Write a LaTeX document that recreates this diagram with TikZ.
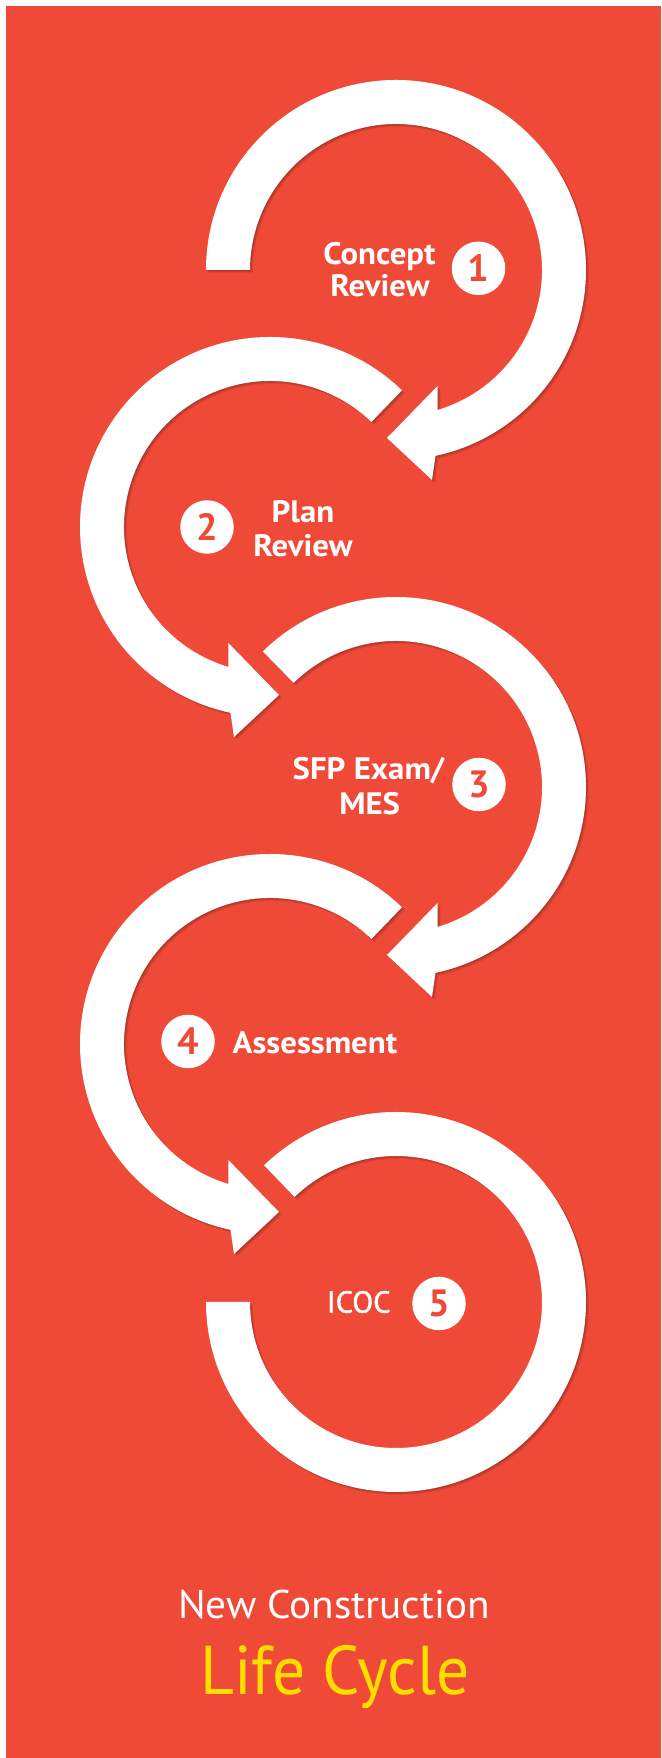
\documentclass[tikz,border=0pt]{standalone}
\usepackage{fontspec}
\setmainfont{PT Sans}
\newfontfamily\labelfont{PT Sans}[FakeStretch=1.06]
\newfontfamily\icocfont{PT Sans}[FakeBold=1.4]
\newfontfamily\titleafont{PT Sans}[FakeStretch=1.03]
\newfontfamily\titlebfont{PT Sans}[FakeStretch=0.95]
\definecolor{bgred}{RGB}{239,74,55}
\definecolor{titleyellow}{RGB}{255,221,0}
% right-hand loop, clockwise, arrowhead at bottom
\newcommand{\RLoopShape}[2]{\fill[#1] (#2:190) arc[start angle=#2,end angle=-78,radius=190] -- (36,-210) -- (-9,-168) -- (41.6,-116) -- (-73.4:146) arc[start angle=-73.4,end angle=#2,radius=146] -- cycle;}
% left-hand loop, counter-clockwise, arrowhead at bottom
\newcommand{\LLoopShape}[2]{\fill[#1] (#2:190) arc[start angle=#2,end angle=258,radius=190] -- (-36,-210) -- (9,-168) -- (-41.6,-116) -- (253.4:146) arc[start angle=253.4,end angle=#2,radius=146] -- cycle;}
% last loop, no arrowhead
\newcommand{\ELoopShape}[2]{\fill[#1] (#2:190) arc[start angle=#2,end angle=-180,radius=190] -- (-180:146) arc[start angle=-180,end angle=#2,radius=146] -- cycle;}
\newcommand{\ShadowedLoop}[4]{% #1 macro, #2 x, #3 y, #4 start angle
  \begin{scope}[shift={(#2,#3)}]
    #1{black,opacity=0.07,shift={(3,-3)}}{#4}
    #1{black,opacity=0.09,shift={(2,-2)}}{#4}
    #1{black,opacity=0.11,shift={(1,-1)}}{#4}
    #1{white}{#4}
  \end{scope}}
\begin{document}
\begin{tikzpicture}[x=1pt,y=1pt,
  numcirc/.style={circle,fill=white,minimum size=53.5pt,inner sep=0pt,text=bgred,font=\bfseries\fontsize{38}{38}\selectfont},
  steplabel/.style={anchor=base,inner sep=0pt,text=white,font=\labelfont\bfseries\fontsize{31}{33}\selectfont},
  plainlabel/.style={anchor=base,inner sep=0pt,text=white,font=\icocfont\fontsize{30.5}{33}\selectfont},
  titlea/.style={anchor=base,inner sep=0pt,text=white,font=\titleafont\fontsize{40}{44}\selectfont},
  titleb/.style={anchor=base,inner sep=0pt,text=titleyellow,font=\titlebfont\fontsize{69}{72}\selectfont}]
\useasboundingbox (0,0) rectangle (661,1758);
\fill[white] (0,0) rectangle (661,1758);
\fill[bgred] (6,0) rectangle (661,1752);

% arrows
\ShadowedLoop{\RLoopShape}{396}{1488}{180}
\ShadowedLoop{\LLoopShape}{270}{1231}{46}
\ShadowedLoop{\RLoopShape}{396}{971}{134.5}
\ShadowedLoop{\LLoopShape}{270}{714}{46}
\ShadowedLoop{\ELoopShape}{396}{456}{134}

% step numbers
\node[numcirc] (n1) at (478.5,1489.7) {1};
\node[numcirc] (n2) at (207,1231) {2};
\node[numcirc] (n3) at (479,973.5) {3};
\node[numcirc] (n4) at (188,716.5) {4};
\node[numcirc] (n5) at (439,454.5) {5};

% step labels
\node[steplabel] (l1a) at (379.5,1493) {Concept};
\node[steplabel] (l1b) at (380,1461) {Review};
\node[steplabel] (l2a) at (303,1235) {Plan};
\node[steplabel] (l2b) at (303,1201) {Review};
\node[steplabel] (l3a) at (368.5,978.7) {SFP Exam/};
\node[steplabel] (l3b) at (369.7,943.7) {MES};
\node[steplabel] (l4) at (315,704.7) {Assessment};
\node[plainlabel] (l5) at (358.7,445.3) {ICOC};

% title
\node[titlea] (t1) at (334,139) {New Construction};
\node[titleb] (t2) at (335,63) {Life Cycle};
\end{tikzpicture}
\end{document}
